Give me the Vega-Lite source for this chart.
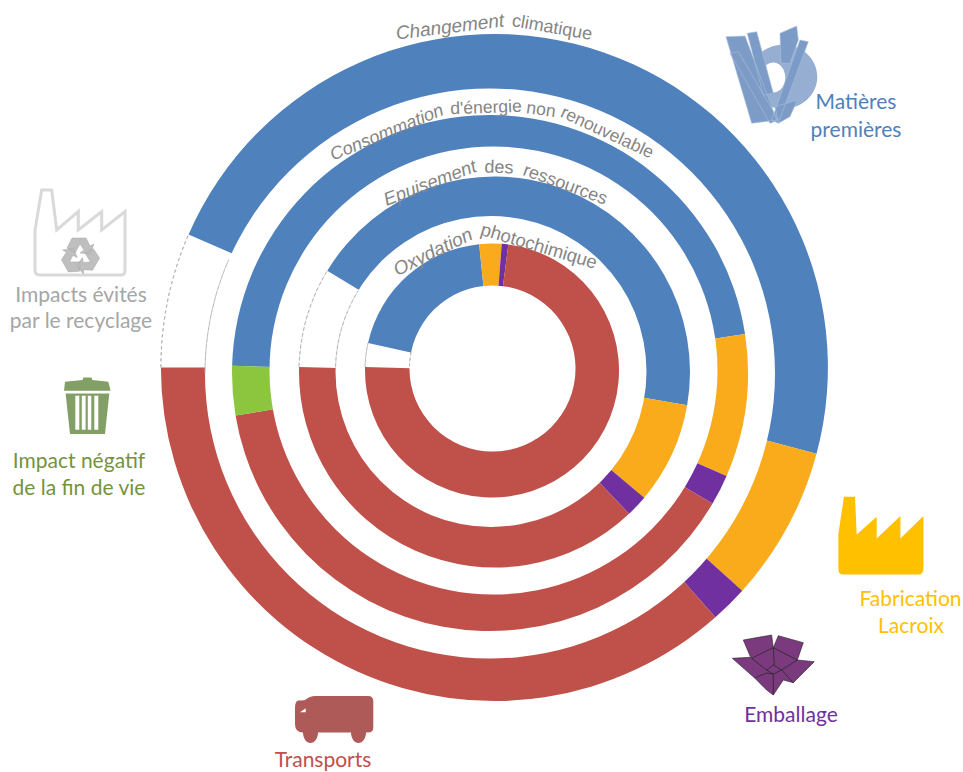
{
"$schema":"https://vega.github.io/schema/vega-lite/v6.json",
"width":963,"height":772,"padding":0,
"autosize":{"type":"fit","contains":"padding"},
"background":"white",
"view":{"stroke":null},
"datasets":{"arcs":[
{"ring":1,"category":"Impacts évités","start":-90,"end":-66.5},
{"ring":1,"category":"Matières premières","start":-66.5,"end":105},
{"ring":1,"category":"Fabrication Lacroix","start":105,"end":132},
{"ring":1,"category":"Emballage","start":132,"end":138.5},
{"ring":1,"category":"Transports","start":138.5,"end":270},
{"ring":2,"category":"Matières premières","start":-88.4,"end":81.3},
{"ring":2,"category":"Fabrication Lacroix","start":81.3,"end":113.5},
{"ring":2,"category":"Emballage","start":113.5,"end":120.4},
{"ring":2,"category":"Transports","start":120.4,"end":260.5},
{"ring":2,"category":"Impact négatif","start":260.5,"end":271.6},
{"ring":3,"category":"Impacts évités","start":-88.5,"end":-58.8},
{"ring":3,"category":"Matières premières","start":-58.8,"end":99.8},
{"ring":3,"category":"Fabrication Lacroix","start":99.8,"end":130},
{"ring":3,"category":"Emballage","start":130,"end":136.5},
{"ring":3,"category":"Transports","start":136.5,"end":271.5},
{"ring":4,"category":"Impacts évités","start":-88.4,"end":-77.5},
{"ring":4,"category":"Matières premières","start":-77.5,"end":-5.8},
{"ring":4,"category":"Fabrication Lacroix","start":-5.8,"end":4.4},
{"ring":4,"category":"Emballage","start":4.4,"end":7.4},
{"ring":4,"category":"Transports","start":7.4,"end":271.6}
],"one":[{"n":1}]},
"layer":[
{"data":{"name":"arcs"},"transform":[{"filter":"datum.ring==1"}],"mark":{"type":"arc","innerRadius":0,"outerRadius":333.5},
 "encoding":{"x":{"value":494.4},"y":{"value":367.5},
 "theta":{"field":"start","type":"quantitative","stack":null,"scale":{"domain":[0,360],"range":[0,6.283185]}},"theta2":{"field":"end"},
 "color":{"field":"category","type":"nominal","legend":null,"scale":{"domain":["Impacts évités","Matières premières","Fabrication Lacroix","Emballage","Transports","Impact négatif"],"range":["#ffffff","#4f81bd","#f9ab1c","#7030a0","#bf504a","#8cc63f"]}}}},
{"data":{"name":"arcs"},"transform":[{"filter":"datum.ring==1 && datum.category=='Impacts évités'"}],"mark":{"type":"arc","innerRadius":333.5,"outerRadius":333.5,"fill":"transparent","stroke":"#b0b0b0","strokeWidth":0.9,"strokeDash":[3,3]},
 "encoding":{"x":{"value":494.4},"y":{"value":367.5},"theta":{"field":"start","type":"quantitative","stack":null},"theta2":{"field":"end"}}},
{"data":{"name":"one"},"mark":{"type":"arc","theta":0,"theta2":6.283185,"innerRadius":0,"outerRadius":285,"fill":"white"},"encoding":{"x":{"value":490},"y":{"value":373.5}}},
{"data":{"name":"arcs"},"transform":[{"filter":"datum.ring==1 && datum.category=='Impacts évités'"}],"mark":{"type":"arc","innerRadius":285,"outerRadius":285,"fill":"transparent","stroke":"#b0b0b0","strokeWidth":0.9,"strokeDash":[3,3]},
 "encoding":{"x":{"value":490},"y":{"value":373.5},"theta":{"field":"start","type":"quantitative","stack":null},"theta2":{"field":"end"}}},

{"data":{"name":"arcs"},"transform":[{"filter":"datum.ring==2"}],"mark":{"type":"arc","innerRadius":0,"outerRadius":258},
 "encoding":{"x":{"value":490},"y":{"value":373},"theta":{"field":"start","type":"quantitative","stack":null},"theta2":{"field":"end"},"color":{"field":"category","type":"nominal","legend":null}}},
{"data":{"name":"one"},"mark":{"type":"arc","theta":0,"theta2":6.283185,"innerRadius":0,"outerRadius":224,"fill":"white"},"encoding":{"x":{"value":493.5},"y":{"value":370.5}}},

{"data":{"name":"arcs"},"transform":[{"filter":"datum.ring==3"}],"mark":{"type":"arc","innerRadius":0,"outerRadius":195.5},
 "encoding":{"x":{"value":494.5},"y":{"value":372},"theta":{"field":"start","type":"quantitative","stack":null},"theta2":{"field":"end"},"color":{"field":"category","type":"nominal","legend":null}}},
{"data":{"name":"arcs"},"transform":[{"filter":"datum.ring==3 && datum.category=='Impacts évités'"}],"mark":{"type":"arc","innerRadius":195.5,"outerRadius":195.5,"fill":"transparent","stroke":"#b0b0b0","strokeWidth":0.9,"strokeDash":[3,3]},
 "encoding":{"x":{"value":494.5},"y":{"value":372},"theta":{"field":"start","type":"quantitative","stack":null},"theta2":{"field":"end"}}},
{"data":{"name":"one"},"mark":{"type":"arc","theta":0,"theta2":6.283185,"innerRadius":0,"outerRadius":155.5,"fill":"white"},"encoding":{"x":{"value":491},"y":{"value":371.5}}},
{"data":{"name":"arcs"},"transform":[{"filter":"datum.ring==3 && datum.category=='Impacts évités'"}],"mark":{"type":"arc","innerRadius":155.5,"outerRadius":155.5,"fill":"transparent","stroke":"#b0b0b0","strokeWidth":0.9,"strokeDash":[3,3]},
 "encoding":{"x":{"value":491},"y":{"value":371.5},"theta":{"field":"start","type":"quantitative","stack":null},"theta2":{"field":"end"}}},

{"data":{"name":"arcs"},"transform":[{"filter":"datum.ring==4"}],"mark":{"type":"arc","innerRadius":0,"outerRadius":127},
 "encoding":{"x":{"value":492},"y":{"value":370.5},"theta":{"field":"start","type":"quantitative","stack":null},"theta2":{"field":"end"},"color":{"field":"category","type":"nominal","legend":null}}},
{"data":{"name":"arcs"},"transform":[{"filter":"datum.ring==4 && datum.category=='Impacts évités'"}],"mark":{"type":"arc","innerRadius":127,"outerRadius":127,"fill":"transparent","stroke":"#b0b0b0","strokeWidth":0.9,"strokeDash":[3,3]},
 "encoding":{"x":{"value":492},"y":{"value":370.5},"theta":{"field":"start","type":"quantitative","stack":null},"theta2":{"field":"end"}}},
{"data":{"name":"one"},"mark":{"type":"arc","theta":0,"theta2":6.283185,"innerRadius":0,"outerRadius":83,"fill":"white"},"encoding":{"x":{"value":492.5},"y":{"value":368.5}}},
{"data":{"name":"arcs"},"transform":[{"filter":"datum.ring==4 && datum.category=='Impacts évités'"}],"mark":{"type":"arc","innerRadius":83,"outerRadius":83,"fill":"transparent","stroke":"#b0b0b0","strokeWidth":0.9,"strokeDash":[3,3]},
 "encoding":{"x":{"value":492.5},"y":{"value":368.5},"theta":{"field":"start","type":"quantitative","stack":null},"theta2":{"field":"end"}}},

{"data":{"values":[{"t":"Changement"}]},"mark":{"type":"text","angle":353,"fontSize":19,"font":"Liberation Sans","fontStyle":"italic","fill":"#858585","align":"center","baseline":"middle"},"encoding":{"text":{"field":"t"},"x":{"value":450},"y":{"value":27}}},
{"data":{"values":[{"t":"climatique"}]},"mark":{"type":"text","angle":10,"fontSize":18,"font":"Liberation Sans","fill":"#858585","align":"center","baseline":"middle"},"encoding":{"text":{"field":"t"},"x":{"value":552},"y":{"value":28}}},
{"data":{"values":[{"t":"Consommation"}]},"mark":{"type":"text","angle":337.5,"fontSize":18,"font":"Liberation Sans","fontStyle":"italic","fill":"#858585","align":"center","baseline":"middle"},"encoding":{"text":{"field":"t"},"x":{"value":387},"y":{"value":133}}},
{"data":{"values":[{"t":"d'énergie"}]},"mark":{"type":"text","angle":358,"fontSize":17.5,"font":"Liberation Sans","fill":"#858585","align":"center","baseline":"middle"},"encoding":{"text":{"field":"t"},"x":{"value":486},"y":{"value":108}}},
{"data":{"values":[{"t":"non"}]},"mark":{"type":"text","angle":8,"fontSize":17.5,"font":"Liberation Sans","fill":"#858585","align":"center","baseline":"middle"},"encoding":{"text":{"field":"t"},"x":{"value":541},"y":{"value":110}}},
{"data":{"values":[{"t":"renouvelable"}]},"mark":{"type":"text","angle":25,"fontSize":17.5,"font":"Liberation Sans","fill":"#858585","align":"center","baseline":"middle"},"encoding":{"text":{"field":"t"},"x":{"value":607},"y":{"value":133}}},
{"data":{"values":[{"t":"Epuisement"}]},"mark":{"type":"text","angle":339,"fontSize":18.5,"font":"Liberation Sans","fontStyle":"italic","fill":"#858585","align":"center","baseline":"middle"},"encoding":{"text":{"field":"t"},"x":{"value":430},"y":{"value":183}}},
{"data":{"values":[{"t":"des"}]},"mark":{"type":"text","angle":2,"fontSize":18,"font":"Liberation Sans","fill":"#858585","align":"center","baseline":"middle"},"encoding":{"text":{"field":"t"},"x":{"value":499},"y":{"value":168}}},
{"data":{"values":[{"t":"ressources"}]},"mark":{"type":"text","angle":20,"fontSize":18,"font":"Liberation Sans","fill":"#858585","align":"center","baseline":"middle"},"encoding":{"text":{"field":"t"},"x":{"value":565},"y":{"value":185}}},
{"data":{"values":[{"t":"Oxydation"}]},"mark":{"type":"text","angle":334,"fontSize":19,"font":"Liberation Sans","fontStyle":"italic","fill":"#858585","align":"center","baseline":"middle"},"encoding":{"text":{"field":"t"},"x":{"value":433},"y":{"value":252}}},
{"data":{"values":[{"t":"photochimique"}]},"mark":{"type":"text","angle":16.5,"fontSize":18.5,"font":"Liberation Sans","fill":"#858585","align":"center","baseline":"middle"},"encoding":{"text":{"field":"t"},"x":{"value":539},"y":{"value":246}}},

{"data":{"values":[{"t":"Matières"}]},"mark":{"type":"text","font":"Lato","fontSize":21,"fill":"#4f81bd","align":"center","baseline":"alphabetic"},"encoding":{"text":{"field":"t"},"x":{"value":856},"y":{"value":109}}},
{"data":{"values":[{"t":"premières"}]},"mark":{"type":"text","font":"Lato","fontSize":21,"fill":"#4f81bd","align":"center","baseline":"alphabetic"},"encoding":{"text":{"field":"t"},"x":{"value":856},"y":{"value":137}}},
{"data":{"values":[{"t":"Impacts évités"}]},"mark":{"type":"text","font":"Lato","fontSize":21,"fill":"#a6a6a6","align":"center","baseline":"alphabetic"},"encoding":{"text":{"field":"t"},"x":{"value":81},"y":{"value":302}}},
{"data":{"values":[{"t":"par le recyclage"}]},"mark":{"type":"text","font":"Lato","fontSize":21,"fill":"#a6a6a6","align":"center","baseline":"alphabetic"},"encoding":{"text":{"field":"t"},"x":{"value":81},"y":{"value":328}}},
{"data":{"values":[{"t":"Impact négatif"}]},"mark":{"type":"text","font":"Lato","fontSize":21,"fill":"#76923c","align":"center","baseline":"alphabetic"},"encoding":{"text":{"field":"t"},"x":{"value":79},"y":{"value":468}}},
{"data":{"values":[{"t":"de la fin de vie"}]},"mark":{"type":"text","font":"Lato","fontSize":21,"fill":"#76923c","align":"center","baseline":"alphabetic"},"encoding":{"text":{"field":"t"},"x":{"value":79},"y":{"value":495}}},
{"data":{"values":[{"t":"Fabrication"}]},"mark":{"type":"text","font":"Lato","fontSize":21,"fill":"#ffc000","align":"center","baseline":"alphabetic"},"encoding":{"text":{"field":"t"},"x":{"value":910.5},"y":{"value":606}}},
{"data":{"values":[{"t":"Lacroix"}]},"mark":{"type":"text","font":"Lato","fontSize":21,"fill":"#ffc000","align":"center","baseline":"alphabetic"},"encoding":{"text":{"field":"t"},"x":{"value":911},"y":{"value":633}}},
{"data":{"values":[{"t":"Emballage"}]},"mark":{"type":"text","font":"Lato","fontSize":21,"fill":"#7030a0","align":"center","baseline":"alphabetic"},"encoding":{"text":{"field":"t"},"x":{"value":791},"y":{"value":722}}},
{"data":{"values":[{"t":"Transports"}]},"mark":{"type":"text","font":"Lato","fontSize":21,"fill":"#c0504d","align":"center","baseline":"alphabetic"},"encoding":{"text":{"field":"t"},"x":{"value":323},"y":{"value":767}}},

{"data":{"values":[{"icon":"Fabrication"}]},"mark":{"type":"point","size":4,"filled":true,"opacity":1,"fill":"#ffc000","shape":"M-36.7,-39L-25.7,-39L-24,-1.3L-4,-19L-4,2.7L19.7,-19.7L19.7,2.7L42.7,-19.7L42.7,32.7Q42.7,38.7 37.7,38.7L-37.3,38.7Q-42.3,38.7 -42.3,33.7L-42.3,-2.3Z"},"encoding":{"x":{"value":880.7},"y":{"value":535.7}}},
{"data":{"values":[{"icon":"Recyclage"}]},"mark":{"type":"point","size":4,"filled":false,"opacity":1,"stroke":"#d9d9d9","strokeWidth":3,"shape":"M-38.3,-42.3L-28.3,-42.3L-23.3,-2.3L-1.7,-20.7L-1.7,-2.3L21.7,-20.7L21.7,-2.3L45,-20.7L45,37.7Q45,42.7 41.7,42.7L-40,42.7Q-45,42.7 -45,37.7L-45,-2.3Z"},"encoding":{"x":{"value":80},"y":{"value":232.3}}},
{"data":{"values":[{"icon":"Recyclage"}]},"mark":{"type":"point","size":4,"filled":true,"opacity":1,"fill":"#bfbfbf","stroke":"#9a9a9a","strokeWidth":0.4,"shape":"M-8,-18L6,-18L10,-10L14,-12L10,-2L0,-3L4,-6L0,-12L-5,-3L-13,-8ZM19.6,2.1L12.6,14.2L3.7,13.7L3.4,18.1L-3.3,9.7L2.6,1.5L3.2,6.5L10.4,6L5.1,-2.8L13.4,-7.3ZM-11.6,15.9L-18.6,3.8L-13.7,-3.7L-17.4,-6.1L-6.7,-7.7L-2.6,1.5L-7.2,-0.5L-10.4,6L-0.1,5.8L-0.4,15.3Z"},"encoding":{"x":{"value":80},"y":{"value":256}}},
{"data":{"values":[{"icon":"Fin de vie"}]},"mark":{"type":"point","size":4,"filled":true,"opacity":1,"fill":"#829f66","shape":"M-22.3,-25L-4.7,-26.7L-4,-29.3L4.3,-29.3L5,-26.7L21,-25L23.3,-16L-23.3,-16ZM-21.7,-13.3L22,-13.3L17.7,27.3L-17.3,27.3ZM-12,-11L-12,23L-8,23L-8,-11ZM-5.5,-11L-5.5,23L-1.7,23L-1.7,-11ZM0.5,-11L0.5,23L4,23L4,-11ZM7,-11L7,23L11,23L11,-11Z"},"encoding":{"x":{"value":87.3},"y":{"value":406.7}}},
{"data":{"values":[{"icon":"Emballage"}]},"mark":{"type":"point","size":4,"filled":true,"opacity":1,"fill":"#7b3a7e","stroke":"#222222","strokeWidth":0.6,"shape":"M-30,-25L-1.7,-30L0,-17.3L5,-29.3L30,-22.3L24,-5L41,-3.3L20,17.7L10,15L0,30L-6.7,25L-18.3,13.3L-41,-6.7L-22.7,-7.7Z"},"encoding":{"x":{"value":773.3},"y":{"value":665}}},
{"data":{"values":[{"icon":"Emballage"}]},"mark":{"type":"point","size":4,"filled":false,"opacity":1,"stroke":"#222222","strokeWidth":0.7,"shape":"M-21.7,-6.7L0,-17.3L24,-5M-21.7,-6.7L-6.7,5L0,0L8.3,5L0,9L-6.7,5M0,-17.3L1,0M24,-5L8.3,5M-18.3,12.7L-6.7,8L0,9L0,30M8.3,5L20,17.7"},"encoding":{"x":{"value":773.3},"y":{"value":665}}},
{"data":{"values":[{"icon":"Transports"}]},"mark":{"type":"point","size":4,"filled":true,"opacity":1,"fill":"#ae5a58","shape":"M-35.7,-17.7Q-30,-18 -29,-18.3Q-24,-22.3 -19,-22.3L34,-22.3Q39.3,-22.3 39.3,-17L39.3,9Q39.3,14.3 34,14.3L32,14.3A7.5,10.5 0 0 1 17,14.3L-16,14.3A7.5,10.5 0 0 1 -31,14.3Q-39,14 -39,6L-39,-10Q-39,-17 -35.7,-17.7ZM-34,-6L-28.3,-6L-28.3,-10Z"},"encoding":{"x":{"value":334},"y":{"value":718.3}}},
{"data":{"values":[{"icon":"Matières"}]},"mark":{"type":"point","size":4,"filled":true,"opacity":1,"fill":"#95aed2","shape":"M-20.7,1.7A34,32 0 1,1 47.3,1.7A34,32 0 1,1 -20.7,1.7ZM-8.7,2.5A12,15 0 1,0 15.3,2.5A12,15 0 1,0 -8.7,2.5Z"},"encoding":{"x":{"value":770},"y":{"value":75}}},
{"data":{"values":[{"icon":"Matières"}]},"mark":{"type":"point","size":4,"filled":true,"opacity":1,"fill":"#7c9cc7","stroke":"#a9bedb","strokeWidth":0.6,"shape":"M-44,-38.3L-25,-39L6.7,45L-18.3,48.3ZM-22.7,-41.7L-13.3,-43.3L3.3,18.3L-6.7,20ZM-40,-21.7L-31.7,-23.3L8.3,45L0,48.3ZM10,-41.7L26.7,-49L28.3,-35L20,-11.7L11,-11.7ZM30,-35L38.3,-33.3L8.3,48.3L1.7,45ZM5,31.7L27.3,25L20,41.7L8.3,48.3Z"},"encoding":{"x":{"value":770},"y":{"value":75}}}
]
}
